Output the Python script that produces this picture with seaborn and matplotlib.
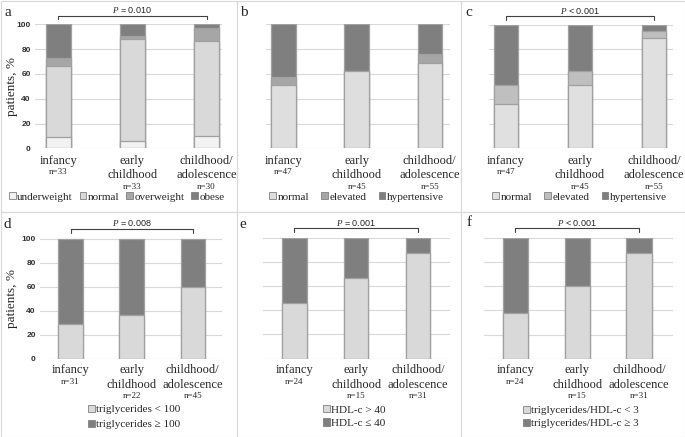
""" Six-panel stacked bar figure: weight, blood pressure and lipid categories by age group. """

import matplotlib
matplotlib.use("Agg")
import matplotlib.pyplot as plt
import matplotlib.transforms as mtrans
from matplotlib.patches import Patch, Rectangle
import numpy as np
import seaborn as sns

# ---- data (percent of patients) ----
groups = ["infancy", "early\nchildhood", "childhood/\nadolescence"]

# a: weight status
a_n = [33, 33, 30]
a_labels = ["underweight", "normal", "overweight", "obese"]
a_underweight = [9.1, 6.1, 10.0]
a_normal = [57.6, 81.8, 76.7]
a_overweight = [6.1, 3.0, 10.0]
a_obese = [27.3, 9.1, 3.3]

# b, c: blood pressure
bp_n = [47, 45, 55]
bp_labels = ["normal", "elevated", "hypertensive"]
b_normal = [51.1, 62.2, 69.1]
b_elevated = [6.4, 0.0, 7.3]
b_hypertensive = [42.6, 37.8, 23.6]
c_normal = [36.2, 51.1, 89.1]
c_elevated = [14.9, 11.1, 5.5]
c_hypertensive = [48.9, 37.8, 5.4]

# d: triglycerides
d_n = [31, 22, 45]
d_labels = ["triglycerides < 100", "triglycerides \u2265 100"]
d_low = [29.0, 36.4, 60.0]
d_high = [71.0, 63.6, 40.0]

# e: HDL-c
e_n = [24, 15, 31]
e_labels = ["HDL-c > 40", "HDL-c \u2264 40"]
e_high = [45.8, 66.7, 87.1]
e_low = [54.2, 33.3, 12.9]

# f: triglycerides/HDL-c
f_n = [24, 15, 31]
f_labels = ["triglycerides/HDL-c < 3", "triglycerides/HDL-c \u2265 3"]
f_low = [37.5, 60.0, 87.1]
f_high = [62.5, 40.0, 12.9]

p_values = {"a": "= 0.010", "c": "< 0.001", "d": "= 0.008", "e": "= 0.001", "f": "< 0.001"}

W, H = 685, 437
SERIF = "Liberation Serif"
SANS = "Liberation Sans"
EDGE = "#a0a0a0"


def fx(px):
    return px / W


def fy(py):
    return 1 - py / H


def draw_panel(fig, key, series, colors, labels, ns, box, xlim, width,
               label_y, legend_pos, legend_cols, colspace=0.6, yaxis=False):
    """ box = (left, right, top(100), bottom(0)) in pixels """
    left, right, top, bottom = box
    ax = fig.add_axes([fx(left), fy(bottom), (right - left) / W, (bottom - top) / H])
    ax.set_axisbelow(True)

    # stacked bars: draw cumulative totals from the top segment down
    cum = np.cumsum(np.array(series), axis=0)
    for k in range(len(series) - 1, -1, -1):
        sns.barplot(x=groups, y=cum[k], color=colors[k], width=width, saturation=1,
                    edgecolor=EDGE, linewidth=0.9, errorbar=None, ax=ax)

    ax.set_xlim(*xlim)
    ax.set_ylim(0, 100)
    ax.set_yticks(range(0, 101, 20))
    ax.grid(axis="y", color="#d9d9d9", linewidth=0.8)
    ax.grid(axis="x", visible=False)
    for s in ax.spines.values():
        s.set_visible(False)
    ax.set_xticks([])
    ax.set_xlabel("")
    ax.set_ylabel("")
    ax.tick_params(axis="y", length=0, pad=3)
    if yaxis:
        ax.set_yticklabels([str(v) for v in range(0, 101, 20)], fontsize=6,
                           family=SANS, fontweight="bold", color="#303030")
        fig.text(fx(12), fy((top + bottom) / 2), "patients, %", rotation=90,
                 ha="center", va="center", family=SERIF, fontsize=9.5)
    else:
        ax.set_yticklabels([])

    # category labels with n underneath
    trans = mtrans.blended_transform_factory(ax.transData, fig.transFigure)
    for i, g in enumerate(groups):
        lines = g.split("\n")
        y = label_y
        for j, line in enumerate(lines):
            y = label_y + 14.5 * j
            fig.text(i, fy(y), line, transform=trans, ha="center", va="center",
                     family=SERIF, fontsize=9)
        fig.text(i, fy(y + 11.5), f"n={ns[i]}", transform=trans, ha="center",
                 va="center", family=SERIF, fontsize=6.5)

    # significance bracket
    if key in p_values:
        ytop = top - 8.5 if top < 100 else top - 9.5
        yleg = ytop + 3.5
        fig.add_artist(plt.Line2D([0, 0, 2, 2], [fy(yleg), fy(ytop), fy(ytop), fy(yleg)],
                                  transform=trans, color="#404040", lw=0.8))
        fig.text(1, fy(ytop - 5.5), r"$P$ " + p_values[key], transform=trans,
                 ha="center", va="center", family=SANS, fontsize=6.5)

    handles = [Patch(facecolor=c, edgecolor="#808080", linewidth=0.6) for c in colors]
    lx, ly, spacing = legend_pos
    ax.legend(handles, labels, loc="center left", bbox_to_anchor=(fx(lx), fy(ly)),
              bbox_transform=fig.transFigure, ncol=legend_cols, frameon=False,
              prop={"family": SERIF, "size": 8}, handlelength=0.6, handleheight=0.6,
              handletextpad=0.15, columnspacing=colspace, labelspacing=spacing, borderpad=0,
              borderaxespad=0)
    return ax


def main():
    sns.set_style("white")
    plt.rcParams["mathtext.fontset"] = "custom"
    plt.rcParams["mathtext.it"] = "Liberation Serif:italic"
    plt.rcParams["mathtext.rm"] = "Liberation Serif"

    fig = plt.figure(figsize=(W / 100, H / 100), dpi=100)

    light, lighter = "#d9d9d9", "#f2f2f2"
    mid, dark = "#a6a6a6", "#7f7f7f"

    draw_panel(fig, "a", [a_underweight, a_normal, a_overweight, a_obese],
               [lighter, light, mid, dark], a_labels, a_n,
               (35, 222, 24.3, 148.3), (-0.314, 2.209), 0.33, 161, (9, 197, 0.3), 4, yaxis=True)
    draw_panel(fig, "b", [b_normal, b_elevated, b_hypertensive],
               ["#dedede", mid, dark], bp_labels, bp_n,
               (266, 450, 24.3, 148.3), (-0.239, 2.276), 0.333, 161, (269, 197, 0.3), 3,
               colspace=1.1)
    draw_panel(fig, "c", [c_normal, c_elevated, c_hypertensive],
               ["#e0e0e0", "#bfbfbf", dark], bp_labels, bp_n,
               (489, 673, 24.7, 148.3), (-0.226, 2.253), 0.33, 161, (492, 197, 0.3), 3,
               colspace=1.1)
    draw_panel(fig, "d", [d_low, d_high], [light, dark], d_labels, d_n,
               (40, 222, 238.5, 358.5), (-0.499, 2.478), 0.4, 370, (88, 417, 0.45), 1, yaxis=True)
    draw_panel(fig, "e", [e_high, e_low], [light, dark], e_labels, e_n,
               (263, 450, 237.5, 358.5), (-0.506, 2.518), 0.4, 370, (323, 416.5, 0.35), 1)
    draw_panel(fig, "f", [f_low, f_high], [light, dark], f_labels, f_n,
               (484, 673, 237.5, 359), (-0.506, 2.55), 0.405, 370, (523, 417, 0.35), 1)

    # panel letters
    for letter, (x, y) in {"a": (8, 13), "b": (244, 13), "c": (469, 13),
                           "d": (7, 224), "e": (243, 224.5), "f": (469, 223)}.items():
        fig.text(fx(x), fy(y), letter, family=SERIF, fontsize=11, ha="center", va="center")

    # panel frames
    cols = [0.5, 237, 461, 684.5]
    rows = [0.5, 212, 436.5]
    for r in range(2):
        for c in range(3):
            fig.add_artist(Rectangle((fx(cols[c]), fy(rows[r + 1])),
                                     (cols[c + 1] - cols[c]) / W, (rows[r + 1] - rows[r]) / H,
                                     transform=fig.transFigure, fill=False,
                                     edgecolor="#d9d9d9", linewidth=0.8))

    fig.savefig("out.png", dpi=100)


if __name__ == "__main__":
    main()
